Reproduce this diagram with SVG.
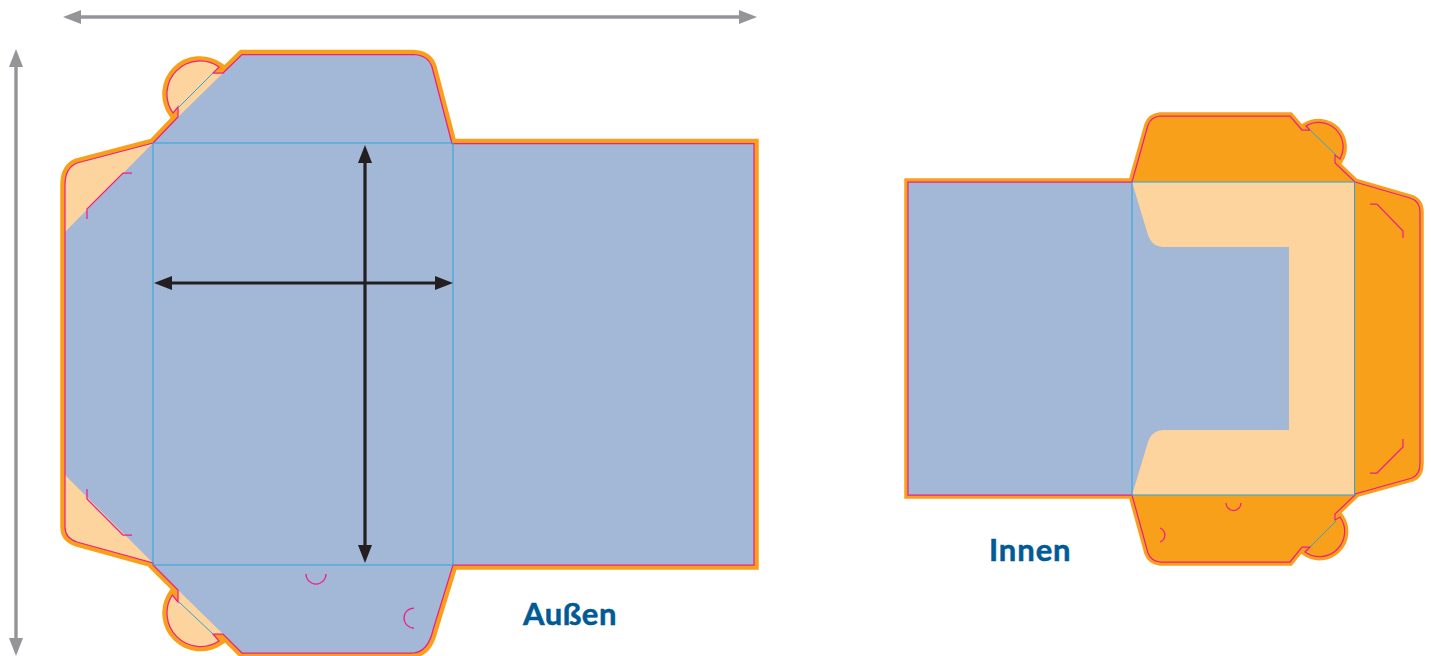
<svg xmlns="http://www.w3.org/2000/svg" width="1431" height="656" viewBox="0 0 1431 656">
<style>
.blue{fill:#A3B7D6}.peach{fill:#FDD49E}.orange{fill:#F9A01B}
.halo{fill:#F9A01B;stroke:#F9A01B;stroke-linejoin:miter;stroke-miterlimit:3}
#halo-a{stroke-width:9.500px}
#halo-i{stroke-width:7.500px}
.cut{fill:none;stroke:#EC2087;stroke-width:1.25;stroke-linejoin:miter}
.fold{fill:none;stroke:#29A5DE;stroke-width:1}
.arrow-k{fill:none;stroke:#231F20;stroke-width:3.2}
.arrow-g{fill:none;stroke:#939598;stroke-width:3.4}
.label{font-family:"Lato","Liberation Sans",sans-serif;font-weight:700;font-size:31px;fill:#005A96;stroke:#005A96;stroke-width:.5}
</style>
<defs>
<path id="outA" d="M153 143L178 117L178 107L173 113A33 33 0 0 1 219 67L213 73L223 73L242 54.500L413 54.500Q428 55 432 67L452 143.500L754 143.500L754 565L453 565L433 630Q428 652 413 653L242 653L223 634L213 634L219 641A33.500 33.500 0 0 1 172.300 595L178 602L178 590L153 565L153 563L77 542Q65 538 65 527L65 185Q65 168 77 163Z"/>
<path id="outI" d="M908 182L1132 182L1148 125Q1151 117 1160 116L1290 116L1302 130L1310 130L1306 126A24.500 24.500 0 0 1 1340 159L1335 155L1335 163L1355 182L1410 198Q1420 201 1420 212L1420 463Q1420 475 1412 478L1355 494L1355 495L1335 514L1335 520L1340 517A25.100 25.100 0 0 1 1305 552L1310 547L1302 547L1290 562L1160 562Q1151 561 1148 553L1132 495L908 495Z"/>
<marker id="hk" viewBox="0 0 18 14" refX="1" refY="7" markerWidth="18" markerHeight="14" markerUnits="userSpaceOnUse" orient="auto-start-reverse"><path d="M0 0L18 7L0 14Z" fill="#231F20"/></marker>
<marker id="hg" viewBox="0 0 18 14" refX="1" refY="7" markerWidth="18" markerHeight="14" markerUnits="userSpaceOnUse" orient="auto-start-reverse"><path d="M0 0L18 7L0 14Z" fill="#939598"/></marker>
</defs>

<g id="aussen">
<use id="halo-a" href="#outA" class="halo"/>
<use href="#outA" class="blue"/>
<path class="peach" d="M153 143L77 163Q65 168 65 185L65 232Z"/>
<path class="peach" d="M153 563L77 542Q65 538 65 527L65 475Z"/>
<path class="peach" d="M178 107L173 113A33 33 0 0 1 219 67L213 73L223 73L178 117Z"/>
<path class="peach" d="M178 602L172.300 595A33.500 33.500 0 0 0 219 641L213 634L223 634L178 590Z"/>
<use href="#outA" class="cut"/>
<path class="cut" d="M132 173H123L87 209V219M87 489V499L123 535H132"/>
<path class="cut" d="M306 574A10 10 0 0 0 326 574M414 608A10 10 0 0 0 414 628"/>
<path class="fold" d="M153 143V565M453 143V565M153 143H453M153 565H453M179 107L213 73M179 602L213 634"/>
</g>

<g id="innen">
<use id="halo-i" href="#outI" class="halo"/>
<use href="#outI" class="orange"/>
<path class="peach" d="M1132 182H1355V495H1132Z"/>
<path class="blue" d="M908 182H1132L1148 235Q1152 247 1164 247H1289V430H1164Q1152 430 1148 442L1132 495H908Z"/>
<use href="#outI" class="cut"/>
<path class="cut" d="M1370 204H1377L1403 231V238M1403 439V447L1377 473H1370"/>
<path class="cut" d="M1226 503A7.500 7.500 0 0 0 1241 503M1160 528A7.500 7.500 0 0 1 1160 542"/>
<path class="fold" d="M1132 182V495M1354.500 182V495M1132 182H1355M1132 495H1355M1310 130L1336 155M1336 521L1310 547"/>
</g>

<g id="connectors">
<path class="arrow-k" d="M365 162V546" marker-start="url(#hk)" marker-end="url(#hk)"/>
<path class="arrow-k" d="M171 283H436" marker-start="url(#hk)" marker-end="url(#hk)"/>
<path class="arrow-g" d="M80 17H740" marker-start="url(#hg)" marker-end="url(#hg)"/>
<path class="arrow-g" d="M16 66V639" marker-start="url(#hg)" marker-end="url(#hg)"/>
</g>

<g id="labels">
<text id="label-aussen" class="label" x="523" y="625" letter-spacing=".5">Außen</text>
<text id="label-innen" class="label" x="989" y="561" letter-spacing=".9">Innen</text>
</g>
</svg>
